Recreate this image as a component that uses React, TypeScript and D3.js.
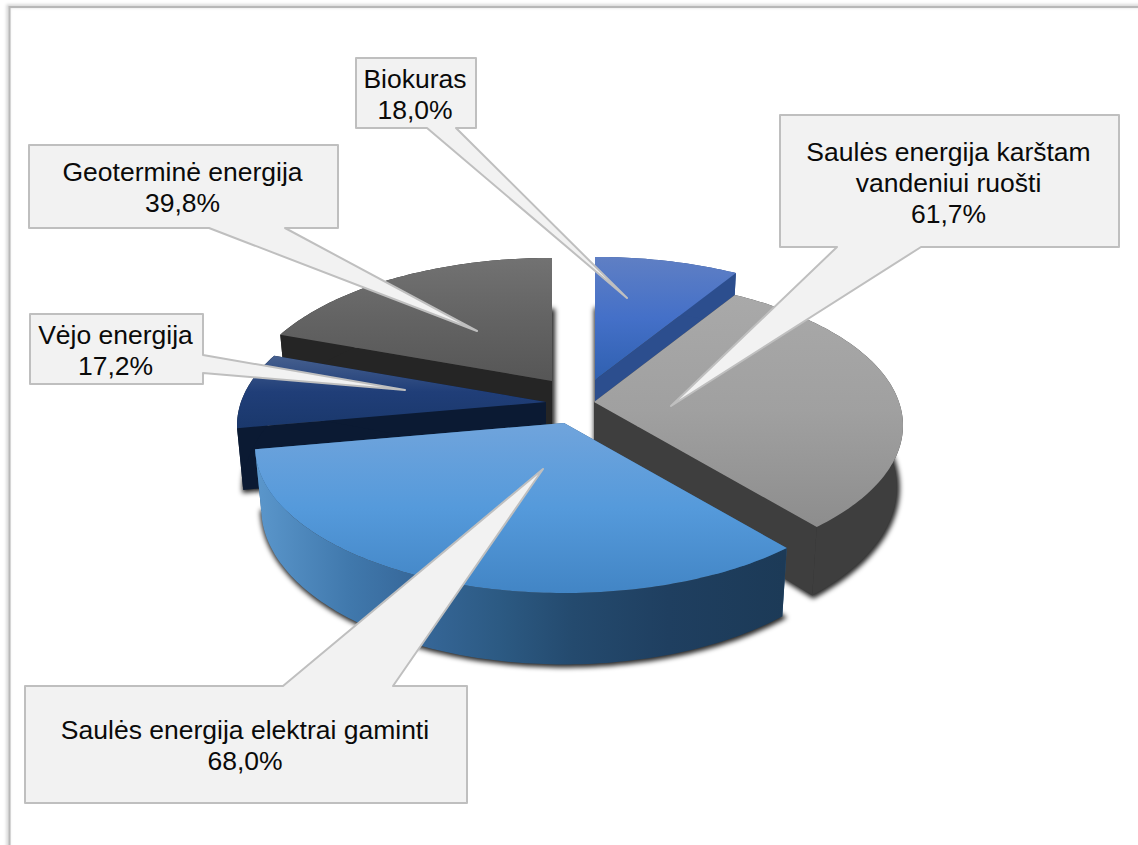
import React from 'react';
import * as d3 from 'd3';

// chart values, clockwise from 12 o'clock
const CATEGORIES = [
  'Biokuras',
  'Saulės energija karštam vandeniui ruošti',
  'Saulės energija elektrai gaminti',
  'Vėjo energija',
  'Geoterminė energija',
];
const VALUES = [18.0, 61.7, 68.0, 17.2, 39.8];
const LABEL_LINES = [
  ['Biokuras'],
  ['Saulės energija karštam', 'vandeniui ruošti'],
  ['Saulės energija elektrai gaminti'],
  ['Vėjo energija'],
  ['Geoterminė energija'],
];

const WIDTH = 1138;
const HEIGHT = 845;

// perspective of the pie plane
const RADIUS_X = 305;
const RADIUS_Y = 142.8;
const PERSPECTIVE = 0.16;
const DEPTH = 60;
const BOTTOM_SHRINK = 0.98;

// where the tip of each exploded slice ends up
const APEX = [
  [595, 380],
  [594, 402],
  [564, 423],
  [546, 402],
  [552, 381],
];

// back to front
const DRAW_ORDER = [4, 0, 3, 1, 2];

const TOP_STOPS = [
  ['#5f7fc4', '#4470c8', '#2f60b0'],
  ['#a9a9a9', '#a0a0a0', '#8d8d8d'],
  ['#70a4dc', '#559adb', '#4285c5'],
  ['#46608f', '#203e78', '#1a386c'],
  ['#727272', '#636363', '#565656'],
];
const CUT_COLORS = ['#2c4e8e', '#3e3e3e', '#2c5a83', '#0b1a33', '#252525'];
const RIM_COLORS = ['#2c4e8e', '#3e3e3e', 'url(#rim-blue)', '#0b1a33', '#252525'];

const BOXES = [
  { x: 356, y: 58, w: 120, h: 70, tip: [627, 298], base: [[456, 128], [427, 128]], lineY: 88 },
  { x: 780, y: 115, w: 339, h: 132, tip: [671, 406], base: [[921, 247], [837, 247]], lineY: 161 },
  { x: 25, y: 686, w: 442, h: 117, tip: [543, 469], base: [[393, 686], [283, 686]], lineY: 739, top: true },
  { x: 30, y: 314, w: 173, h: 70, tip: [405, 390], base: [[203, 355], [203, 373]], lineY: 344, right: true },
  { x: 29, y: 145, w: 309, h: 83, tip: [477, 331], base: [[285, 228], [209, 228]], lineY: 181 },
];

const line = d3.line<number[]>().x(d => d[0]).y(d => d[1]);

function calloutPath(b: (typeof BOXES)[number]) {
  const { x, y, w, h, tip, base } = b;
  const x2 = x + w;
  const y2 = y + h;
  let pts: number[][];
  if (b.right) {
    pts = [[x, y], [x2, y], base[0], tip, base[1], [x2, y2], [x, y2]];
  } else if (b.top) {
    pts = [[x, y], base[1], tip, base[0], [x2, y], [x2, y2], [x, y2]];
  } else {
    pts = [[x, y], [x2, y], [x2, y2], base[0], tip, base[1], [x, y2]];
  }
  return line(pts) + 'Z';
}

// plane position of an angle, relative to the slice tip
function project(angle: number) {
  const u = Math.sin(angle);
  const v = -Math.cos(angle);
  const w = 1 - PERSPECTIVE * v;
  return { dx: (RADIUS_X * u) / w, dy: (RADIUS_Y * v) / w, depth: DEPTH / w };
}

function topPoint(apex: number[], angle: number) {
  const p = project(angle);
  return [apex[0] + p.dx, apex[1] + p.dy];
}

function bottomPoint(apex: number[], angle: number) {
  const p = project(angle);
  return [apex[0] + p.dx * BOTTOM_SHRINK, apex[1] + p.dy + p.depth];
}

export default function App() {
  const arcs = d3.pie<number>().sort(null).value(d => d)(VALUES);
  const pct = (v: number) => v.toFixed(1).replace('.', ',') + '%';

  return (
    <svg
      width={WIDTH}
      height={HEIGHT}
      style={{ position: 'absolute', left: 0, top: 0, display: 'block', background: '#fff' }}
      fontFamily="'Liberation Sans', Arial, sans-serif"
    >
      <defs>
        <filter id="frame-shadow" x="-5%" y="-5%" width="110%" height="110%">
          <feGaussianBlur stdDeviation="1.5" />
        </filter>
        <filter id="slice-shadow" x="-10%" y="-10%" width="120%" height="120%">
          <feGaussianBlur stdDeviation="2.4" />
        </filter>
        {TOP_STOPS.map((stops, i) => (
          <linearGradient key={i} id={`top-${i}`} x1="0" y1="0" x2="0" y2="1">
            <stop offset="0%" stopColor={stops[0]} />
            <stop offset="50%" stopColor={stops[1]} />
            <stop offset="100%" stopColor={stops[2]} />
          </linearGradient>
        ))}
        <linearGradient id="rim-blue" gradientUnits="userSpaceOnUse" x1="255" y1="0" x2="785" y2="0">
          <stop offset="0%" stopColor="#5b97cc" />
          <stop offset="18%" stopColor="#4078ac" />
          <stop offset="30%" stopColor="#37689a" />
          <stop offset="46%" stopColor="#2c5a83" />
          <stop offset="60%" stopColor="#244a6e" />
          <stop offset="78%" stopColor="#1f3f60" />
          <stop offset="100%" stopColor="#1c3a57" />
        </linearGradient>
      </defs>

      <path d="M8,852V6H1146" fill="none" stroke="#000" strokeOpacity={0.18} strokeWidth={3} filter="url(#frame-shadow)" />
      <path d="M9.5,852V7H1146" fill="none" stroke="#b8b8b8" strokeWidth={2} />

      {DRAW_ORDER.map(i => {
        const arc = arcs[i];
        const apex = APEX[i];
        const angles = d3.range(arc.startAngle, arc.endAngle, Math.PI / 180).concat(arc.endAngle);
        const topRim = angles.map(a => topPoint(apex, a));
        const bottomRim = angles.map(a => bottomPoint(apex, a));
        const apexBottom = [apex[0], apex[1] + DEPTH];
        const cut = (a: number) =>
          line([apex, topPoint(apex, a), bottomPoint(apex, a), apexBottom]) + 'Z';
        return (
          <g key={CATEGORIES[i]}>
            <path
              d={line([apexBottom, ...bottomRim]) + 'Z'}
              fill="#000"
              stroke="#000"
              strokeWidth={4}
              strokeOpacity={0.8}
              fillOpacity={0.8}
              filter="url(#slice-shadow)"
              transform="translate(1,1)"
            />
            <path d={cut(arc.startAngle)} fill={CUT_COLORS[i]} />
            <path d={cut(arc.endAngle)} fill={CUT_COLORS[i]} />
            <path d={line([...topRim, ...bottomRim.slice().reverse()]) + 'Z'} fill={RIM_COLORS[i]} />
            <path d={line([apex, ...topRim]) + 'Z'} fill={`url(#top-${i})`} />
          </g>
        );
      })}

      {BOXES.map((b, i) => (
        <g key={i}>
          <path d={calloutPath(b)} fill="#f2f2f2" stroke="#bfbfbf" strokeWidth={2} strokeLinejoin="round" />
          <text fontSize={26.5} fill="#0a0a0a" textAnchor="middle">
            {[...LABEL_LINES[i], pct(VALUES[i])].map((t, j) => (
              <tspan key={j} x={b.x + b.w / 2 - 1} y={b.lineY + j * 31}>
                {t}
              </tspan>
            ))}
          </text>
        </g>
      ))}
    </svg>
  );
}
